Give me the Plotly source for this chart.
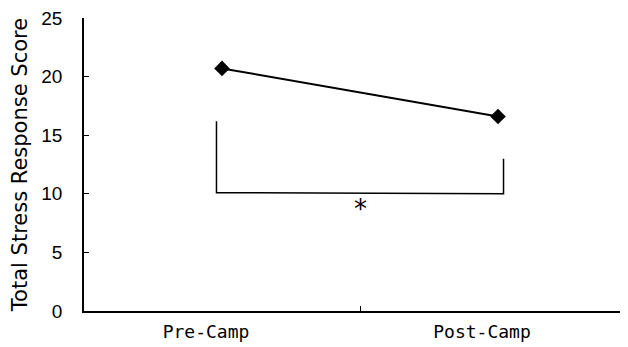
import plotly.graph_objects as go

categories = ["Pre-Camp", "Post-Camp"]
cat_pos = [0, 1]
scores = [20.7, 16.6]
y_ticks = [0, 5, 10, 15, 20, 25]
y_tick_labels = ["0", "5", "10", "15", "20", "25"]
bracket_x = [-0.02, -0.02, 1.02, 1.02]
bracket_y = [16.2, 10.1, 10.0, 13.0]
sig_label = "*"

fig = go.Figure()
fig.add_trace(go.Scatter(
    x=bracket_x, y=bracket_y, mode="lines",
    line=dict(color="black", width=1.5), hoverinfo="skip", showlegend=False))
fig.add_trace(go.Scatter(
    x=cat_pos, y=scores, mode="lines+markers",
    line=dict(color="black", width=2),
    marker=dict(symbol="diamond", size=12, color="black"),
    showlegend=False))

fig.add_annotation(x=0.5, y=10.0, text=sig_label, showarrow=False,
                   yanchor="top", yshift=2,
                   font=dict(family="DejaVu Sans", size=26, color="#000000"))

fig.update_layout(
    template="none",
    width=628, height=347,
    margin=dict(l=76, r=0, t=10, b=44, autoexpand=False),
    paper_bgcolor="white", plot_bgcolor="white",
    font=dict(color="#000000"),
    xaxis=dict(
        automargin=False,
        range=[-0.5, 1.5], tickvals=cat_pos, ticktext=categories,
        ticks="", showgrid=False, zeroline=False,
        showline=True, linecolor="black", linewidth=1.5,
        ticklabelshift=-16, ticklabelstandoff=4,
        tickfont=dict(family="DejaVu Sans Mono", size=18, color="#000000"),
        minor=dict(tickmode="array", tickvals=[0.5], ticks="inside",
                   ticklen=5, tickcolor="black", tickwidth=1, showgrid=False),
    ),
    yaxis=dict(
        automargin=False,
        range=[0, 25], tickvals=y_ticks, ticktext=y_tick_labels,
        ticks="inside", ticklen=5, tickcolor="black", tickwidth=1,
        showgrid=False, zeroline=False,
        showline=True, linecolor="black", linewidth=1.5,
        ticklabelstandoff=16, ticklabeloverflow="allow",
        tickfont=dict(family="Liberation Sans Narrow, Liberation Sans", size=19,
                      color="#000000"),
        title=dict(text="Total Stress Response Score", standoff=8,
                   font=dict(family="DejaVu Sans", size=21, color="#000000")),
    ),
)

fig.write_html("out.html")
